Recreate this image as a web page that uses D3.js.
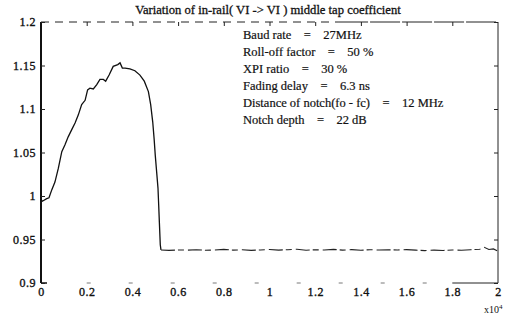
<!DOCTYPE html>
<html>
<head>
<meta charset="utf-8">
<script src="https://cdn.jsdelivr.net/npm/d3@7"></script>
<style>
  body { margin: 0; background: #fff; }
  text { font-family: "Liberation Serif", "Times New Roman", serif; fill: #111; }
</style>
</head>
<body>
<script>
// chart values (x in units of 10^4)
var xVals = [0, 0.006, 0.025, 0.035, 0.047, 0.061, 0.076, 0.091, 0.105, 0.119, 0.134, 0.149,
  0.163, 0.178, 0.193, 0.204, 0.214, 0.229, 0.244, 0.258, 0.273, 0.283, 0.298, 0.316, 0.336,
  0.346, 0.356, 0.368, 0.389, 0.411, 0.433, 0.452, 0.470, 0.480, 0.489, 0.495, 0.500, 0.506,
  0.512, 0.515, 0.518, 0.522, 0.525,
  0.56, 0.60, 0.64, 0.68, 0.72, 0.76, 0.80, 0.84, 0.88, 0.92, 0.96, 1.00, 1.04, 1.08, 1.12,
  1.16, 1.20, 1.24, 1.28, 1.32, 1.36, 1.40, 1.44, 1.48, 1.52, 1.56, 1.60, 1.64, 1.68, 1.72,
  1.76, 1.80, 1.84, 1.88, 1.92, 1.94, 1.96, 1.98, 2.00];
var yVals = [0.996, 0.994, 0.997, 0.998, 1.007, 1.016, 1.032, 1.051, 1.059, 1.068, 1.076, 1.084,
  1.093, 1.105, 1.110, 1.122, 1.124, 1.123, 1.128, 1.134, 1.134, 1.132, 1.139, 1.149, 1.151,
  1.153, 1.147, 1.147, 1.146, 1.144, 1.139, 1.132, 1.120, 1.105, 1.085, 1.066, 1.047, 1.028,
  1.009, 0.990, 0.970, 0.944, 0.938,
  0.9375, 0.938, 0.9378, 0.9383, 0.9376, 0.938, 0.9386, 0.9378, 0.9382, 0.9375, 0.938, 0.9385,
  0.9378, 0.9383, 0.9388, 0.9377, 0.9382, 0.9379, 0.9386, 0.9378, 0.9384, 0.9376, 0.9383,
  0.9379, 0.9381, 0.938, 0.9384, 0.9378, 0.9372, 0.9378, 0.9374, 0.938, 0.9377, 0.9383,
  0.9388, 0.941, 0.9385, 0.9392, 0.9365];
var xTicks = [0, 0.2, 0.4, 0.6, 0.8, 1, 1.2, 1.4, 1.6, 1.8, 2];
var yTicks = [0.9, 0.95, 1, 1.05, 1.1, 1.15, 1.2];
var title = "Variation of in-rail( VI -> VI ) middle tap coefficient";
var noteLabels = ["Baud rate", "Roll-off factor", "XPI ratio", "Fading delay",
  "Distance of notch(fo - fc)", "Notch depth"];
var noteValues = ["27MHz", "50 %", "30 %", "6.3 ns", "12 MHz", "22 dB"];

var margin = {top: 22, right: 12, bottom: 41, left: 41},
    width = 510 - margin.left - margin.right,
    height = 324 - margin.top - margin.bottom;

var serif = "'Liberation Serif', 'Times New Roman', serif";

var svg = d3.select("body").append("svg")
    .attr("width", 510)
    .attr("height", 324);

var g = svg.append("g")
    .attr("transform", "translate(" + margin.left + "," + margin.top + ")");

var x = d3.scaleLinear().domain([0, 2]).range([0, width]);
var y = d3.scaleLinear().domain([0.9, 1.2]).range([height, 0]);

var data = xVals.map(function(v, i) { return {x: v, y: yVals[i]}; });
var dropIdx = 43;

var line = d3.line()
    .x(function(d) { return x(d.x); })
    .y(function(d) { return y(d.y); });

// frame (scanned look: top and bottom broken)
g.append("line").attr("x1", 0).attr("x2", x(1.3)).attr("y1", 0).attr("y2", 0)
    .attr("stroke", "#222").attr("stroke-width", 1).attr("stroke-dasharray", "8,6");
g.append("line").attr("x1", x(1.3)).attr("x2", width).attr("y1", 0).attr("y2", 0)
    .attr("stroke", "#222").attr("stroke-width", 1).attr("stroke-dasharray", "30,2");
g.append("line").attr("x1", x(1.8)).attr("x2", width).attr("y1", height).attr("y2", height)
    .attr("stroke", "#222").attr("stroke-width", 1);
g.append("line").attr("x1", x(0.2)).attr("x2", x(1.8)).attr("y1", height).attr("y2", height)
    .attr("stroke", "#555").attr("stroke-width", 0.8).attr("stroke-dasharray", "4,38");
g.append("line").attr("x1", width).attr("x2", width).attr("y1", 0).attr("y2", height)
    .attr("stroke", "#222").attr("stroke-width", 1);
g.append("line").attr("x1", 0).attr("x2", 0).attr("y1", 0).attr("y2", height)
    .attr("stroke", "#111").attr("stroke-width", 2);
g.append("line").attr("x1", 0).attr("x2", 6).attr("y1", height).attr("y2", height)
    .attr("stroke", "#111").attr("stroke-width", 1.5);

// y axis
var yAxis = g.append("g")
    .call(d3.axisLeft(y).tickValues(yTicks).tickSize(-4)
        .tickFormat(function(d) { return d3.format("")(d); }));
yAxis.select(".domain").remove();
yAxis.selectAll("text").attr("x", -5)
    .style("font-family", serif).style("font-size", "12px").style("letter-spacing", "0.5px")
    .attr("stroke", "#111").attr("stroke-width", 0.35);

// right ticks
g.append("g").attr("transform", "translate(" + width + ",0)")
    .call(d3.axisRight(y).tickValues(yTicks).tickSize(-4).tickFormat(""))
    .select(".domain").remove();

// x axis
var xAxis = g.append("g").attr("transform", "translate(0," + height + ")")
    .call(d3.axisBottom(x).tickValues(xTicks).tickSize(0)
        .tickFormat(function(d) { return d3.format("")(d); }));
xAxis.select(".domain").remove();
xAxis.selectAll("text").attr("y", 4)
    .style("font-family", serif).style("font-size", "12px").style("letter-spacing", "0.5px")
    .attr("stroke", "#111").attr("stroke-width", 0.35);

// top ticks
g.append("g")
    .call(d3.axisTop(x).tickValues(xTicks.slice(1, -1)).tickSize(-4).tickFormat(""))
    .select(".domain").remove();

g.selectAll(".tick line").attr("stroke", "#222");

// curve
g.append("path")
    .datum(data.slice(0, dropIdx))
    .attr("fill", "none").attr("stroke", "#111").attr("stroke-width", 1.3)
    .attr("d", line);
g.append("path")
    .datum(data.slice(dropIdx - 1))
    .attr("fill", "none").attr("stroke", "#222").attr("stroke-width", 1.1)
    .attr("stroke-dasharray", "14,3,6,4")
    .attr("d", line);

// title
svg.append("text")
    .attr("x", 268).attr("y", 14)
    .attr("text-anchor", "middle")
    .style("font-size", "12.6px")
    .attr("stroke", "#111").attr("stroke-width", 0.3)
    .text(title);

// annotations
var nb = "\u00a0";
svg.selectAll(".note").data(noteLabels).enter().append("text")
    .attr("class", "note")
    .attr("x", 243)
    .attr("y", function(d, i) { return 39 + i * 17; })
    .style("font-size", "12.5px")
    .attr("stroke", "#111").attr("stroke-width", 0.2)
    .text(function(d, i) { return d + nb + nb + nb + nb + "=" + nb + nb + nb + nb + noteValues[i]; });

// exponent label
var ex = svg.append("text").attr("x", 484).attr("y", 313).style("font-size", "10px");
ex.append("tspan").text("x10");
ex.append("tspan").attr("dy", -4).style("font-size", "7px").text("4");
</script>
</body>
</html>
